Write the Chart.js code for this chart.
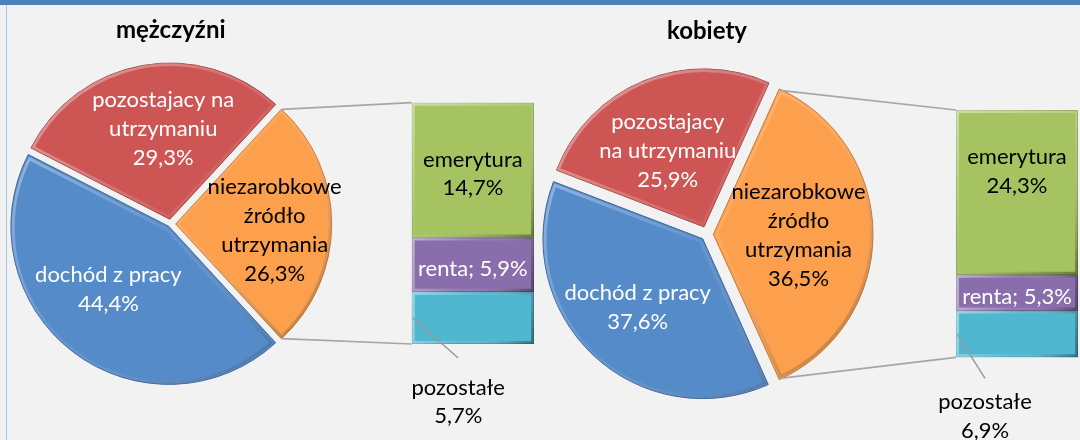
<!DOCTYPE html>
<html lang="pl">
<head>
<meta charset="utf-8">
<title>Źródła utrzymania – mężczyźni i kobiety</title>
<script src="https://cdn.jsdelivr.net/npm/chart.js@4.4.1/dist/chart.umd.min.js"></script>
<style>
  body { margin: 0; background: #f2f2f2; }
  #frame { position: relative; width: 1080px; height: 440px; background: #f2f2f2; overflow: hidden; }
  #frame canvas { position: absolute; top: 0; }
  .band { position: absolute; left: 0; top: 0; width: 1080px; height: 5px; background: #4f81bd; z-index: 5; }
  .edge { position: absolute; left: 6px; top: 5px; width: 1px; height: 435px; background: #a7c5ea; z-index: 5; }
</style>
</head>
<body>
<div id="frame">
  <div class="band"></div>
  <div class="edge"></div>
  <canvas id="pieMen" width="540" height="440" style="left:0"></canvas>
  <canvas id="barMen" width="540" height="440" style="left:0"></canvas>
  <canvas id="pieWomen" width="540" height="440" style="left:540px"></canvas>
  <canvas id="barWomen" width="540" height="440" style="left:540px"></canvas>
</div>
<script>
// kategorie koła (pierwsza = suma słupka obok)
const menPieLabels = [['niezarobkowe', 'źródło', 'utrzymania'], ['dochód z pracy'], ['pozostajacy na', 'utrzymaniu']];
const womenPieLabels = [['niezarobkowe', 'źródło', 'utrzymania'], ['dochód z pracy'], ['pozostajacy', 'na utrzymaniu']];
const menPieValues = [26.3, 44.4, 29.3];
const womenPieValues = [36.5, 37.6, 25.9];

// rozbicie źródeł niezarobkowych
const barCategories = ['emerytura', 'renta', 'pozostałe'];
const menBarValues = [14.7, 5.9, 5.7];
const womenBarValues = [24.3, 5.3, 6.9];

const pieColors = ['#fda04e', '#568bca', '#cd5655'];
const pieBorders = ['#c8762e', '#3d679e', '#9c3d3c'];
const barColors = ['#a5c461', '#8a6eab', '#50b7d0'];
const barBorders = ['#78923f', '#634c81', '#33879d'];

const W = 540, H = 440;
const FONT = 'Lato, "Open Sans", sans-serif';
const LABEL_FONT = '22px ' + FONT;
const TITLE_SIZE = 24;

const sum = a => a.reduce((s, v) => s + v, 0);
const pct = v => v.toFixed(1).replace('.', ',') + '%';

// chart.js przesuwa wycinek o offset/4*(1+fix); tu odwracamy to, żeby każdy wycinek odsunąć o tyle samo px
function explodeOffset(ctx, px) {
  const total = sum(ctx.dataset.data);
  const circ = ctx.raw / total * Math.PI * 2;
  const fix = 1 - Math.sin(Math.min(Math.PI, circ));
  return 4 * px / (1 + fix);
}

function drawLines(ctx, lines, x, y, lh, color) {
  ctx.save();
  ctx.font = LABEL_FONT;
  ctx.fillStyle = color;
  ctx.textAlign = 'center';
  ctx.textBaseline = 'middle';
  lines.forEach((t, k) => ctx.fillText(t, x, y + (k - (lines.length - 1) / 2) * lh));
  ctx.restore();
}

// lekki efekt fazowania krawędzi (jasno u góry, ciemno u dołu)
const bevel = {
  id: 'bevel',
  afterDatasetsDraw(chart) {
    const ctx = chart.ctx;
    chart.data.datasets.forEach((ds, di) => {
      chart.getDatasetMeta(di).data.forEach(el => {
        ctx.save();
        ctx.beginPath();
        let x0, y0, x1, y1;
        if ('startAngle' in el) {
          const mid = (el.startAngle + el.endAngle) / 2;
          const off = (el.options.offset || 0) / 4;
          const fix = 1 - Math.sin(Math.min(Math.PI, el.circumference));
          const t = off * (1 + fix);
          const cx = el.x + Math.cos(mid) * t, cy = el.y + Math.sin(mid) * t, R = el.outerRadius;
          ctx.moveTo(cx, cy);
          ctx.arc(cx, cy, R, el.startAngle, el.endAngle);
          ctx.closePath();
          x0 = cx - R; y0 = cy - R; x1 = cx + R; y1 = cy + R;
        } else {
          const top = Math.min(el.y, el.base), h = Math.abs(el.base - el.y);
          x0 = el.x - el.width / 2; y0 = top; x1 = x0 + el.width; y1 = top + h;
          ctx.rect(x0, y0, el.width, h);
        }
        ctx.clip();
        const g = ctx.createLinearGradient(x0, y0, x1, y1);
        g.addColorStop(0, 'rgba(255,255,255,0.45)');
        g.addColorStop(0.5, 'rgba(255,255,255,0.08)');
        g.addColorStop(1, 'rgba(0,0,0,0.38)');
        ctx.lineWidth = 6;
        ctx.strokeStyle = g;
        ctx.stroke();
        ctx.restore();
      });
    });
  }
};

const sliceLabels = {
  id: 'sliceLabels',
  afterDatasetsDraw(chart, args, opts) {
    const ds = chart.data.datasets[0];
    chart.getDatasetMeta(0).data.forEach((arc, i) => {
      const mid = (arc.startAngle + arc.endAngle) / 2;
      const d = opts.explode + 0.57 * arc.outerRadius;
      const x = arc.x + d * Math.cos(mid) + opts.nudge[i][0];
      const y = arc.y + d * Math.sin(mid) + opts.nudge[i][1];
      drawLines(chart.ctx, [].concat(chart.data.labels[i], pct(ds.data[i])), x, y, 29, opts.colors[i]);
    });
  }
};

// linie łączące wycinek z kolumną
const pieLinks = {
  id: 'pieLinks',
  beforeDatasetsDraw(chart, args, opts) {
    const pie = Chart.getChart(opts.pie);
    const arc = pie.getDatasetMeta(0).data[0];
    const R = arc.outerRadius;
    const mid = (arc.startAngle + arc.endAngle) / 2;
    const ox = arc.x + opts.explode * Math.cos(mid);
    const oy = arc.y + opts.explode * Math.sin(mid);
    const first = chart.getDatasetMeta(0).data[0];
    const last = chart.getDatasetMeta(chart.data.datasets.length - 1).data[0];
    const xl = first.x - first.width / 2;
    const ctx = chart.ctx;
    ctx.save();
    ctx.strokeStyle = '#a6a6a6';
    ctx.lineWidth = 1.75;
    ctx.beginPath();
    ctx.moveTo(ox + R * Math.cos(arc.startAngle), oy + R * Math.sin(arc.startAngle));
    ctx.lineTo(xl, Math.min(first.y, first.base));
    ctx.moveTo(ox + R * Math.cos(arc.endAngle), oy + R * Math.sin(arc.endAngle));
    ctx.lineTo(xl, Math.max(last.y, last.base));
    ctx.stroke();
    ctx.restore();
  }
};

const segmentLabels = {
  id: 'segmentLabels',
  afterDatasetsDraw(chart, args, opts) {
    const ctx = chart.ctx;
    const n = chart.data.datasets.length;
    chart.data.datasets.forEach((ds, i) => {
      const bar = chart.getDatasetMeta(i).data[0];
      const top = Math.min(bar.y, bar.base), bottom = Math.max(bar.y, bar.base);
      const left = bar.x - bar.width / 2;
      const value = pct(ds.data[0]);
      if (i === n - 1) {
        // ostatni segment: etykieta pod kolumną z linią odniesienia
        const ex = left + opts.leader.dx, ey = bottom + opts.leader.dy;
        ctx.save();
        ctx.strokeStyle = '#9a9a9a';
        ctx.lineWidth = 1.5;
        ctx.beginPath();
        ctx.moveTo(left + 1, (top + bottom) / 2);
        ctx.lineTo(ex, ey);
        ctx.stroke();
        ctx.restore();
        drawLines(ctx, [ds.label, value], ex, ey + opts.leader.gap + 14.35, 28.7, '#000');
        return;
      }
      ctx.font = LABEL_FONT;
      const one = ds.label + '; ' + value;
      const lines = ctx.measureText(one).width < bar.width - 6 ? [one] : [ds.label, value];
      drawLines(ctx, lines, bar.x, (top + bottom) / 2 + opts.shift[i], 28.3, opts.colors[i]);
    });
  }
};

function pieConfig(labels, values, o) {
  const titleLine = TITLE_SIZE * 1.2;
  const titleTop = o.titleY - titleLine / 2;
  const areaTop = titleTop + titleLine;
  return {
    type: 'pie',
    data: {
      labels: labels,
      datasets: [{
        data: values,
        backgroundColor: pieColors,
        borderColor: pieBorders,
        borderWidth: 1,
        radius: o.r,
        rotation: 90 - 180 * values[0] / sum(values),
        offset: ctx => explodeOffset(ctx, o.explode)
      }]
    },
    options: {
      responsive: false,
      animation: false,
      events: [],
      layout: { padding: { left: 0, right: W - 2 * o.cx, top: 0, bottom: areaTop + H - 2 * o.cy } },
      plugins: {
        legend: { display: false },
        tooltip: { enabled: false },
        title: {
          display: true,
          text: o.title,
          color: '#000',
          font: { family: FONT, size: TITLE_SIZE, weight: 'bold' },
          padding: { top: titleTop, bottom: 0 }
        },
        sliceLabels: { explode: o.explode, nudge: o.nudge, colors: ['#000', '#fff', '#fff'] }
      }
    },
    plugins: [bevel, sliceLabels]
  };
}

function barConfig(values, o) {
  return {
    type: 'bar',
    data: {
      labels: [''],
      datasets: barCategories.map((name, i) => ({
        label: name,
        data: [values[i]],
        backgroundColor: barColors[i],
        borderColor: barBorders[i],
        borderWidth: 1,
        borderSkipped: false,
        barPercentage: 1,
        categoryPercentage: 1
      }))
    },
    options: {
      responsive: false,
      animation: false,
      events: [],
      layout: { padding: { left: o.left, right: W - o.right, top: o.top, bottom: H - o.bottom } },
      scales: {
        x: { display: false, stacked: true },
        y: { display: false, stacked: true, reverse: true, min: 0, max: sum(values) }
      },
      plugins: {
        legend: { display: false },
        tooltip: { enabled: false },
        pieLinks: { pie: o.pie, explode: o.explode },
        segmentLabels: { shift: o.shift, leader: o.leader, colors: ['#000', '#fff', '#000'] }
      }
    },
    plugins: [pieLinks, bevel, segmentLabels]
  };
}

new Chart('pieMen', pieConfig(menPieLabels, menPieValues, {
  cx: 170.7, cy: 224, r: 156, explode: 5, title: 'mężczyźni', titleY: 30,
  nudge: [[10, 6.5], [-5.5, -9], [9, -2.5]]
}));
new Chart('barMen', barConfig(menBarValues, {
  left: 411.7, right: 534, top: 102.7, bottom: 344, pie: 'pieMen', explode: 5,
  shift: [4, 4, 0], leader: { dx: 46.5, dy: 14, gap: 29.5 }
}));
new Chart('pieWomen', pieConfig(womenPieLabels, womenPieValues, {
  cx: 167, cy: 234.3, r: 158, explode: 8, title: 'kobiety', titleY: 31.7,
  nudge: [[-6.5, 1], [-2, 2], [-2, 7]]
}));
new Chart('barWomen', barConfig(womenBarValues, {
  left: 416, right: 538, top: 110, bottom: 357.3, pie: 'pieWomen', explode: 8,
  shift: [-21, 4, 0], leader: { dx: 29, dy: 21, gap: 23.5 }
}));
</script>
</body>
</html>
